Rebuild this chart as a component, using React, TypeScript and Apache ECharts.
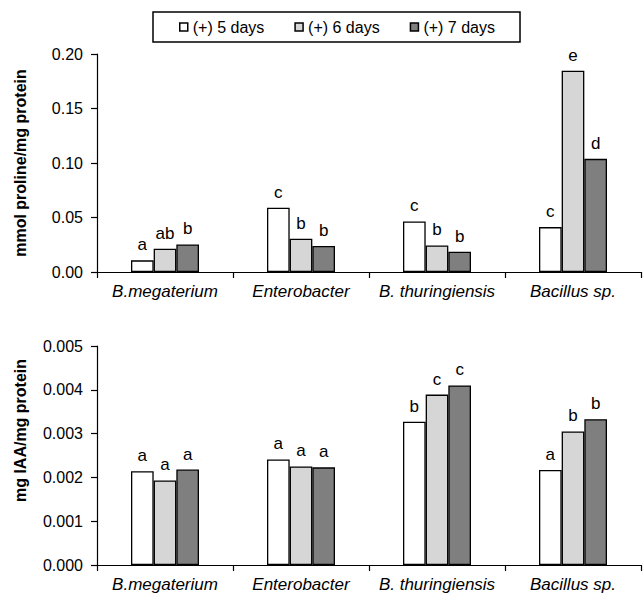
import React, { useEffect, useRef } from "react";
import * as echarts from "echarts";

const categories = ["B.megaterium", "Enterobacter", "B. thuringiensis", "Bacillus sp."];
const seriesNames = ["(+) 5 days", "(+) 6 days", "(+) 7 days"];
const seriesColors = ["#ffffff", "#d6d6d6", "#7f7f7f"];

const proline5 = [0.0107, 0.059, 0.0464, 0.0412];
const proline6 = [0.0214, 0.0305, 0.0244, 0.1847];
const proline7 = [0.0253, 0.0238, 0.0186, 0.1038];
const prolineLetters5 = ["a", "c", "c", "c"];
const prolineLetters6 = ["ab", "b", "b", "e"];
const prolineLetters7 = ["b", "b", "b", "d"];

const iaa5 = [0.00214, 0.00241, 0.00327, 0.00217];
const iaa6 = [0.00193, 0.00225, 0.00389, 0.00305];
const iaa7 = [0.00218, 0.00223, 0.0041, 0.00333];
const iaaLetters5 = ["a", "a", "b", "a"];
const iaaLetters6 = ["a", "a", "c", "b"];
const iaaLetters7 = ["a", "a", "c", "b"];

const prolineTitle = "mmol proline/mg protein";
const iaaTitle = "mg IAA/mg protein";

const FONT = "'Liberation Sans', Arial, sans-serif";

export default function App() {
  const ref = useRef<HTMLDivElement>(null);
  useEffect(() => {
    document.body.style.margin = "0";
    if (!ref.current) return;
    const chart = echarts.init(ref.current, undefined, { renderer: "svg" });

    const xAxisCommon = (gridIndex: number) => ({
      type: "category",
      gridIndex,
      data: categories,
      axisLine: { lineStyle: { color: "#000", width: 1.2 } },
      axisTick: { show: true, alignWithLabel: false, length: 6, lineStyle: { color: "#000", width: 1.2 } },
      axisLabel: { color: "#000", fontSize: 17, fontStyle: "italic", fontFamily: FONT, margin: 11, interval: 0 },
    });
    const yAxisCommon = (
      gridIndex: number,
      max: number,
      interval: number,
      digits: number,
      name: string,
      namePad: number[]
    ) => ({
      type: "value",
      gridIndex,
      min: 0,
      max,
      interval,
      name,
      nameLocation: "middle",
      nameGap: 69,
      nameTextStyle: { color: "#000", fontSize: 16, fontWeight: "bold", fontFamily: FONT, padding: namePad },
      axisLine: { show: true, lineStyle: { color: "#000", width: 1.2 } },
      axisTick: { show: true, length: 6, lineStyle: { color: "#000", width: 1.2 } },
      axisLabel: { color: "#000", fontSize: 16, fontFamily: FONT, margin: 14, formatter: (v: number) => v.toFixed(digits) },
      splitLine: { show: false },
    });

    const mkSeries = (i: number, data: number[], letters: string[], axisIndex: number) => ({
      type: "bar",
      name: seriesNames[i],
      xAxisIndex: axisIndex,
      yAxisIndex: axisIndex,
      data,
      barCategoryGap: "50%",
      barGap: "0%",
      itemStyle: { color: seriesColors[i], borderColor: "#000", borderWidth: 1.3 },
      label: {
        show: true,
        position: "top",
        distance: 7,
        color: "#000",
        fontSize: 17,
        fontFamily: FONT,
        formatter: (p: any) => letters[p.dataIndex],
      },
    });

    chart.setOption({
      animation: false,
      backgroundColor: "#fff",
      legend: {
        data: seriesNames,
        top: 12,
        left: 153,
        icon: "rect",
        itemWidth: 8,
        itemHeight: 8,
        itemGap: 30,
        borderColor: "#000",
        borderWidth: 1.5,
        borderRadius: 0,
        padding: [7, 25, 7, 26],
        textStyle: { color: "#000", fontSize: 16, fontFamily: FONT },
        itemStyle: { borderColor: "#000", borderWidth: 1.5 },
      },
      grid: [
        { left: 97, right: 2, top: 54, height: 218 },
        { left: 97, right: 2, top: 346, height: 219 },
      ],
      xAxis: [xAxisCommon(0), xAxisCommon(1)],
      yAxis: [
        yAxisCommon(0, 0.2, 0.05, 2, prolineTitle, [0, 0, 0, 0]),
        yAxisCommon(1, 0.005, 0.001, 3, iaaTitle, [0, 0, 0, 50]),
      ],
      series: [
        mkSeries(0, proline5, prolineLetters5, 0),
        mkSeries(1, proline6, prolineLetters6, 0),
        mkSeries(2, proline7, prolineLetters7, 0),
        mkSeries(0, iaa5, iaaLetters5, 1),
        mkSeries(1, iaa6, iaaLetters6, 1),
        mkSeries(2, iaa7, iaaLetters7, 1),
      ],
    });
    return () => chart.dispose();
  }, []);
  return <div ref={ref} style={{ width: 643, height: 596 }} />;
}
